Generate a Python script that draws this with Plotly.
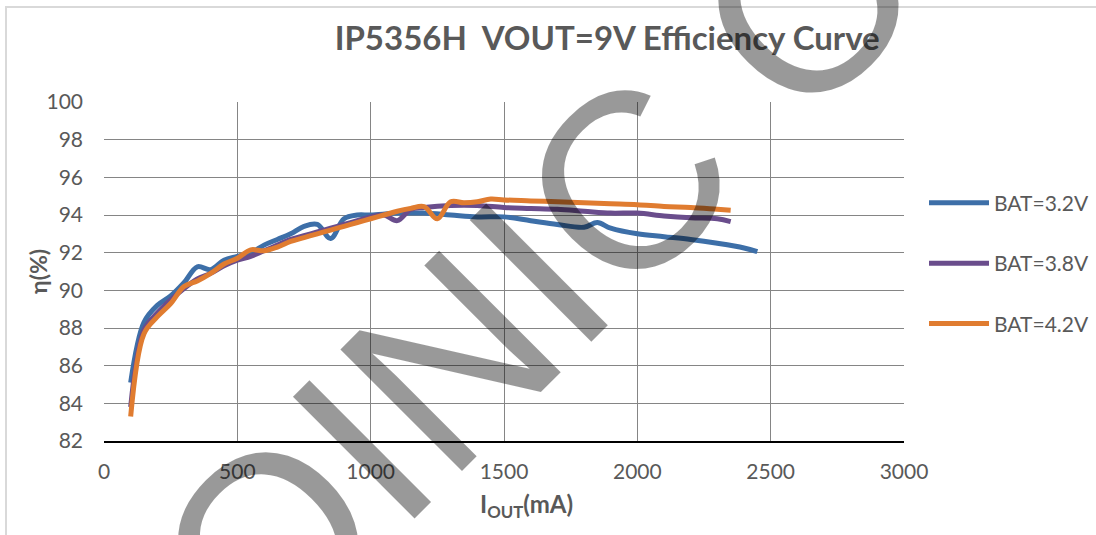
import plotly.graph_objects as go

# ---------------- data ----------------
x_32 = [100, 150, 200, 250, 300, 350, 400, 450, 500, 550, 600, 650, 700, 750, 800,
        850, 900, 950, 1000, 1100, 1200, 1300, 1400, 1500, 1600, 1700, 1800, 1850,
        1900, 2000, 2100, 2200, 2300, 2400, 2450]
y_32 = [85.1, 88.3, 89.2, 89.7, 90.4, 91.25, 91.1, 91.6, 91.8, 92.0, 92.4, 92.7, 93.0,
        93.4, 93.5, 92.75, 93.8, 94.0, 94.0, 94.1, 94.1, 94.0, 93.9, 93.9, 93.7, 93.5,
        93.35, 93.6, 93.3, 93.0, 92.85, 92.7, 92.5, 92.25, 92.05]

x_38 = [100, 150, 200, 250, 300, 350, 400, 450, 500, 550, 600, 650, 700, 750, 800,
        850, 900, 950, 1000, 1050, 1100, 1150, 1200, 1300, 1400, 1500, 1600, 1700,
        1800, 1900, 2000, 2100, 2200, 2300, 2350]
y_38 = [83.8, 87.9, 88.8, 89.5, 90.1, 90.6, 90.9, 91.3, 91.6, 91.8, 92.1, 92.4, 92.7,
        92.9, 93.1, 93.3, 93.5, 93.7, 93.9, 94.0, 93.7, 94.3, 94.4, 94.5, 94.5, 94.4,
        94.35, 94.3, 94.2, 94.1, 94.1, 93.95, 93.85, 93.8, 93.65]

x_42 = [100, 150, 200, 250, 300, 350, 400, 450, 500, 550, 600, 650, 700, 750, 800,
        850, 900, 950, 1000, 1050, 1100, 1150, 1200, 1250, 1300, 1350, 1400, 1450,
        1500, 1600, 1700, 1800, 1900, 2000, 2100, 2200, 2300, 2350]
y_42 = [83.3, 87.7, 88.6, 89.3, 90.2, 90.5, 90.9, 91.4, 91.7, 92.15, 92.1, 92.3, 92.6,
        92.8, 93.0, 93.2, 93.4, 93.6, 93.8, 94.0, 94.2, 94.35, 94.45, 93.8, 94.7, 94.65,
        94.7, 94.85, 94.8, 94.75, 94.7, 94.65, 94.6, 94.55, 94.45, 94.4, 94.3, 94.25]

series_names = ["BAT=3.2V", "BAT=3.8V", "BAT=4.2V"]
series_colors = ["#3d6fa8", "#6a4d8c", "#e07c30"]

title_text = "IP5356H  VOUT=9V Efficiency Curve"
x_title = "<b>I<sub>OUT</sub>(mA)</b>"
y_title = "<b>η(%)</b>"
x_ticks = [0, 500, 1000, 1500, 2000, 2500, 3000]
y_ticks = [82, 84, 86, 88, 90, 92, 94, 96, 98, 100]
watermark_text = "OINIC O"

FONT = "Lato"
GREY = "#595959"

# plot-area geometry (pixels)
L, R, T, B = 104, 904, 102, 441
PW, PH = R - L, B - T

fig = go.Figure()
for xs, ys, name, col in zip([x_32, x_38, x_42], [y_32, y_38, y_42], series_names, series_colors):
    fig.add_trace(go.Scatter(
        x=xs, y=ys, mode="lines", name=name, legendgroup=name,
        line=dict(color=col, width=5, shape="spline", smoothing=1.0),
    ))

fig.update_layout(
    width=1096, height=535,
    margin=dict(l=L, r=1096 - R, t=T, b=535 - B, autoexpand=False),
    paper_bgcolor="white", plot_bgcolor="white",
    font=dict(family=FONT, color=GREY, size=20),
    title=dict(text="<b>" + title_text + "</b>", x=0.554, xanchor="center",
               y=0.928, yanchor="middle",
               font=dict(family=FONT, size=33, color=GREY)),
    showlegend=True,
    legend=dict(x=(924 - L) / PW, xanchor="left", y=0.762, yanchor="top",
                traceorder="grouped", tracegroupgap=30,
                font=dict(family=FONT, size=21, color=GREY),
                bgcolor="rgba(0,0,0,0)", itemwidth=60),
    xaxis=dict(range=[0, 3000], tickvals=x_ticks, showgrid=True,
               gridcolor="#858585", gridwidth=1, zeroline=False,
               showline=True, linecolor="black", linewidth=2,
               ticks="", ticklabelstandoff=11, automargin=False,
               tickfont=dict(family=FONT, size=21, color=GREY)),
    yaxis=dict(range=[82, 100], tickvals=y_ticks, showgrid=True,
               gridcolor="#858585", gridwidth=1, zeroline=False,
               showline=False, ticks="", ticklabelstandoff=20, automargin=False,
               tickfont=dict(family=FONT, size=21, color=GREY)),
)

# axis titles
fig.add_annotation(text=x_title, xref="paper", yref="paper",
                   x=(526 - L) / PW, y=-(505 - B) / PH,
                   xanchor="center", yanchor="middle", showarrow=False,
                   font=dict(family=FONT, size=24, color=GREY))
fig.add_annotation(text=y_title, xref="paper", yref="paper",
                   x=(38 - L) / PW, y=(B - 272) / PH, textangle=-90,
                   xanchor="center", yanchor="middle", showarrow=False,
                   font=dict(family=FONT, size=23, color=GREY))

# outer chart border (light grey)
fig.add_shape(type="rect", xref="paper", yref="paper",
              x0=(6 - L) / PW, x1=(1120 - L) / PW, y0=(B - 560) / PH, y1=(B - 7) / PH,
              line=dict(color="#d9d9d9", width=2), fillcolor="rgba(0,0,0,0)", layer="below")

# watermark
fig.add_annotation(text=watermark_text, xref="paper", yref="paper",
                   x=(538 - L) / PW, y=(B - 272) / PH,
                   xanchor="center", yanchor="middle", showarrow=False,
                   textangle=-45,
                   font=dict(family="Liberation Sans", size=250, color="rgba(0,0,0,0.4)"))

fig.write_html("out.html", config={"displayModeBar": False},
               post_script="document.body.style.margin='0';")
